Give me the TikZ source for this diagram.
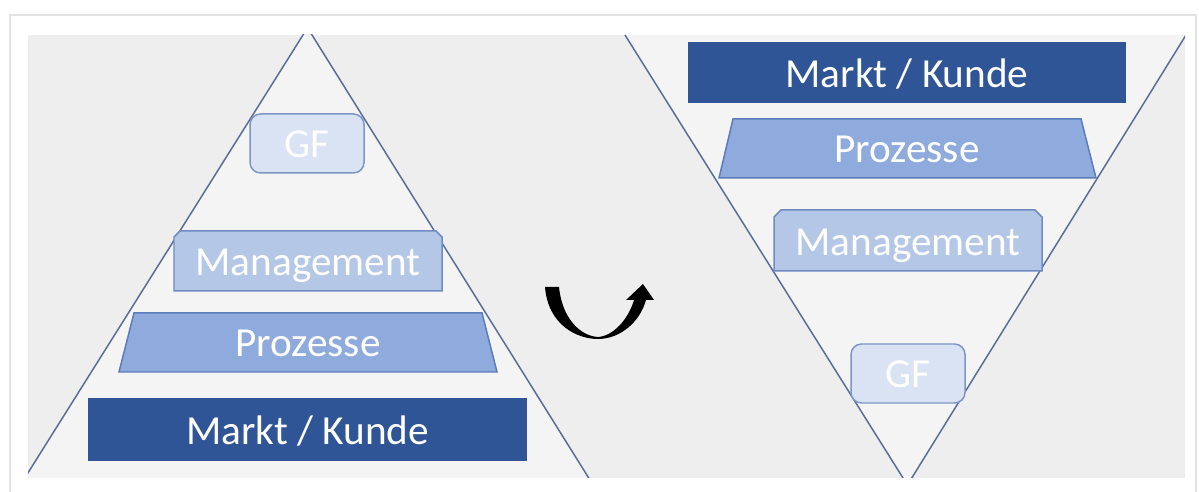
\documentclass[tikz,border=0pt]{standalone}
\usepackage{fontspec}
\setmainfont{Carlito}
\definecolor{panel}{HTML}{EEEEEE}
\definecolor{inner}{HTML}{F4F4F4}
\definecolor{triline}{HTML}{5A6D98}
\definecolor{gffill}{HTML}{DAE3F3}
\definecolor{gfline}{HTML}{7D96C6}
\definecolor{mgfill}{HTML}{B4C7E7}
\definecolor{mgline}{HTML}{6F8BC2}
\definecolor{prfill}{HTML}{8FAADC}
\definecolor{prline}{HTML}{5B7CBB}
\definecolor{mkfill}{HTML}{2F5597}
\begin{document}
\begin{tikzpicture}[x=0.02cm, y=-0.02cm,
    side/.style={draw=triline, line width=0.85pt},
    gfbox/.style={fill=gffill, draw=gfline, line width=0.85pt, rounded corners=6pt},
    mgbox/.style={fill=mgfill, draw=mgline, line width=0.85pt},
    prbox/.style={fill=prfill, draw=prline, line width=0.85pt},
    mkbox/.style={fill=mkfill, draw=mkfill, line width=0.85pt},
    lbl/.style={anchor=base, inner sep=0pt, text=white, font=\fontsize{23.5}{28}\selectfont}]
\useasboundingbox (0,0) rectangle (1199,492);
\fill[white] (0,0) rectangle (1199,492);
\draw[black!11, line width=1.6pt] (10,15) rectangle (1196,510);
\fill[panel] (28,35) rectangle (1185,478);

% the two triangles
\begin{scope}
\clip (28,35) rectangle (1185,478);
\fill[inner] (23.5,480) -- (307.5,27.8) -- (590,480) -- cycle;
\draw[side] (23.5,480) -- (307.5,27.8) -- (590,480);
\fill[inner] (625,35) -- (1186,35) -- (907.4,485) -- cycle;
\draw[side] (625,35) -- (907.4,485) -- (1186,35);
\end{scope}

% left pyramid
\draw[gfbox] (250,114) rectangle (364,173);
\node[lbl] (gfL) at (307,158) {GF};
\draw[mgbox] (174,291) -- (174,237) -- (180,231) -- (436,231) -- (442,237) -- (442,291) -- cycle;
\node[lbl] (mgmtL) at (308,276) {Management};
\draw[prbox] (119,372) -- (134,313) -- (482,313) -- (497,372) -- cycle;
\node[lbl] (prozL) at (308,357) {Prozesse};
\draw[mkbox] (89,399) rectangle (526,460);
\node[lbl] (marktL) at (307.5,445) {Markt / Kunde};

% turning arrow
\fill[black] (545,287) .. controls (548,325) and (577,339) .. (598,339)
    .. controls (620,339) and (640,322) .. (646,300)
    -- (654,300) -- (643,284) -- (626,300) -- (634,300)
    .. controls (628,320) and (613,336) .. (598,337)
    .. controls (580,336) and (562,318) .. (559,287) -- cycle;

% right pyramid, turned over
\draw[mkbox] (689,43) rectangle (1125,102);
\node[lbl] (marktR) at (907,88) {Markt / Kunde};
\draw[prbox] (719,178) -- (733,119) -- (1081,119) -- (1096,178) -- cycle;
\node[lbl] (prozR) at (907,163) {Prozesse};
\draw[mgbox] (774,271) -- (774,217) -- (781,210) -- (1035,210) -- (1042,217) -- (1042,271) -- cycle;
\node[lbl] (mgmtR) at (908,256) {Management};
\draw[gfbox] (851,344) rectangle (965,403);
\node[lbl] (gfR) at (908,388) {GF};
\end{tikzpicture}
\end{document}
